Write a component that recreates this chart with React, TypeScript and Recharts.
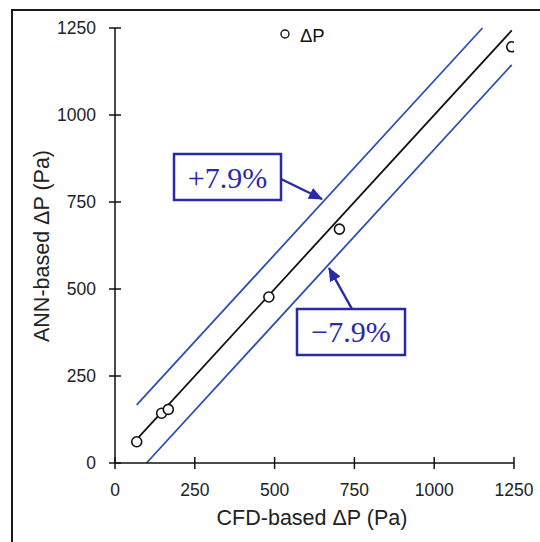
import {
  ComposedChart,
  Scatter,
  XAxis,
  YAxis,
  ReferenceLine,
} from "recharts";

// ── Data ──────────────────────────────────────────────────────────────────────

const cfdValues = [68, 146, 167, 482, 703, 1243];
const annValues = [61, 143, 154, 477, 672, 1196];
const axisTicks = [0, 250, 500, 750, 1000, 1250];

// parity line y = x, and ±7.9 % (of full scale 1250) bands
const fitRange = [68, 1243];
const bandPct = 7.9;
const fullScale = 1250;
const bandOffset = (bandPct / 100) * fullScale;
const upperRange = [68, fullScale - bandOffset];
const lowerRange = [bandOffset, 1243];

const points = cfdValues.map((x, i) => ({ x, y: annValues[i] }));

// ── Styles ────────────────────────────────────────────────────────────────────

const BLUE_LINE = "#2f4fb0";
const BOX_BLUE = "#2a2aa8";
const TICK_FONT = "'Liberation Sans', Arial, sans-serif";
const TITLE_FONT = "'Liberation Sans', Arial, sans-serif";

// ── Ticks that cross the axis line ────────────────────────────────────────────

function XTick({ x, y, payload }: any) {
  return (
    <g>
      <line x1={x} x2={x} y1={y - 6} y2={y + 6} stroke="#111" strokeWidth={1.5} />
      <text
        x={x}
        y={y + 27}
        textAnchor="middle"
        dominantBaseline="central"
        fontFamily={TICK_FONT}
        fontSize={17.5}
        fill="#222"
      >
        {payload.value}
      </text>
    </g>
  );
}

function YTick({ x, y, payload }: any) {
  return (
    <g>
      <line x1={x - 6} x2={x + 6} y1={y} y2={y} stroke="#111" strokeWidth={1.5} />
      <text
        x={x - 19}
        y={y}
        textAnchor="end"
        dominantBaseline="central"
        fontFamily={TICK_FONT}
        fontSize={17.5}
        fill="#222"
      >
        {payload.value}
      </text>
    </g>
  );
}

// ── Component ─────────────────────────────────────────────────────────────────

export default function App() {
  return (
    <div
      style={{
        position: "absolute",
        left: 0,
        top: 0,
        width: 540,
        height: 542,
        background: "#fff",
        overflow: "hidden",
      }}
    >
      {/* Outer frame (only top/left fall inside the picture) */}
      <div
        style={{
          position: "absolute",
          left: 11,
          top: 9,
          width: 560,
          height: 560,
          borderLeft: "2px solid #1a1a1a",
          borderTop: "2px solid #1a1a1a",
        }}
      />

      <div style={{ position: "absolute", left: 0, top: 0 }}>
        <ComposedChart
          width={540}
          height={542}
          data={points}
          margin={{ top: 28, right: 26, bottom: 0, left: 0 }}
        >
          <XAxis
            type="number"
            dataKey="x"
            domain={[0, 1250]}
            ticks={axisTicks}
            height={79}
            tickSize={0}
            tickMargin={0}
            tickLine={false}
            axisLine={{ stroke: "#111", strokeWidth: 1.5 }}
            tick={<XTick />}
            allowDataOverflow
          />
          <YAxis
            type="number"
            dataKey="y"
            domain={[0, 1250]}
            ticks={axisTicks}
            width={115}
            tickSize={0}
            tickMargin={0}
            tickLine={false}
            axisLine={{ stroke: "#111", strokeWidth: 1.5 }}
            tick={<YTick />}
            allowDataOverflow
          />

          <ReferenceLine
            segment={[
              { x: upperRange[0], y: upperRange[0] + bandOffset },
              { x: upperRange[1], y: upperRange[1] + bandOffset },
            ]}
            stroke={BLUE_LINE}
            strokeWidth={1.8}
            ifOverflow="visible"
          />
          <ReferenceLine
            segment={[
              { x: lowerRange[0], y: lowerRange[0] - bandOffset },
              { x: lowerRange[1], y: lowerRange[1] - bandOffset },
            ]}
            stroke={BLUE_LINE}
            strokeWidth={1.8}
            ifOverflow="visible"
          />
          <ReferenceLine
            segment={[
              { x: fitRange[0], y: fitRange[0] },
              { x: fitRange[1], y: fitRange[1] },
            ]}
            stroke="#111"
            strokeWidth={1.8}
            ifOverflow="visible"
          />

          <Scatter
            name="ΔP"
            dataKey="y"
            isAnimationActive={false}
            shape={(p: any) => (
              <circle cx={p.cx} cy={p.cy} r={5} fill="#fff" stroke="#111" strokeWidth={1.6} />
            )}
          />
        </ComposedChart>
      </div>

      {/* Legend, axis titles and ±7.9 % annotations */}
      <svg
        width={540}
        height={542}
        style={{ position: "absolute", left: 0, top: 0, pointerEvents: "none" }}
      >
        <defs>
          <marker
            id="arrowHead"
            markerUnits="userSpaceOnUse"
            markerWidth={14}
            markerHeight={12}
            refX={13}
            refY={6}
            orient="auto"
          >
            <path d="M0,0 L14,6 L0,12 z" fill={BOX_BLUE} />
          </marker>
        </defs>

        <circle cx={285} cy={34} r={4} fill="none" stroke="#111" strokeWidth={1.4} />
        <text
          x={300}
          y={35}
          dominantBaseline="central"
          fontFamily={TICK_FONT}
          fontSize={18.5}
          fill="#111"
        >
          ΔP
        </text>

        <text
          x={312}
          y={518}
          textAnchor="middle"
          dominantBaseline="central"
          fontFamily={TITLE_FONT}
          fontSize={21.5}
          fill="#222"
        >
          CFD-based ΔP (Pa)
        </text>
        <text
          x={42}
          y={246}
          textAnchor="middle"
          dominantBaseline="central"
          fontFamily={TITLE_FONT}
          fontSize={21.5}
          fill="#222"
          transform="rotate(-90 42 246)"
        >
          ANN-based ΔP (Pa)
        </text>

        {/* +7.9% */}
        <line x1={281} y1={179} x2={322} y2={199} stroke={BOX_BLUE} strokeWidth={2.5} markerEnd="url(#arrowHead)" />
        <rect x={174} y={154} width={107} height={46} fill="#fff" stroke={BOX_BLUE} strokeWidth={2.5} />
        <text
          x={227.5}
          y={188}
          textAnchor="middle"
          fontFamily="'Liberation Serif', 'DejaVu Serif', serif"
          fontSize={30}
          fill={BOX_BLUE}
        >
          +7.9%
        </text>

        {/* −7.9% */}
        <line x1={352} y1={309} x2={329} y2={268} stroke={BOX_BLUE} strokeWidth={2.5} markerEnd="url(#arrowHead)" />
        <rect x={297} y={309} width={108} height={46} fill="#fff" stroke={BOX_BLUE} strokeWidth={2.5} />
        <text
          x={351}
          y={342}
          textAnchor="middle"
          fontFamily="'Liberation Serif', 'DejaVu Serif', serif"
          fontSize={30}
          fill={BOX_BLUE}
        >
          −7.9%
        </text>
      </svg>
    </div>
  );
}
